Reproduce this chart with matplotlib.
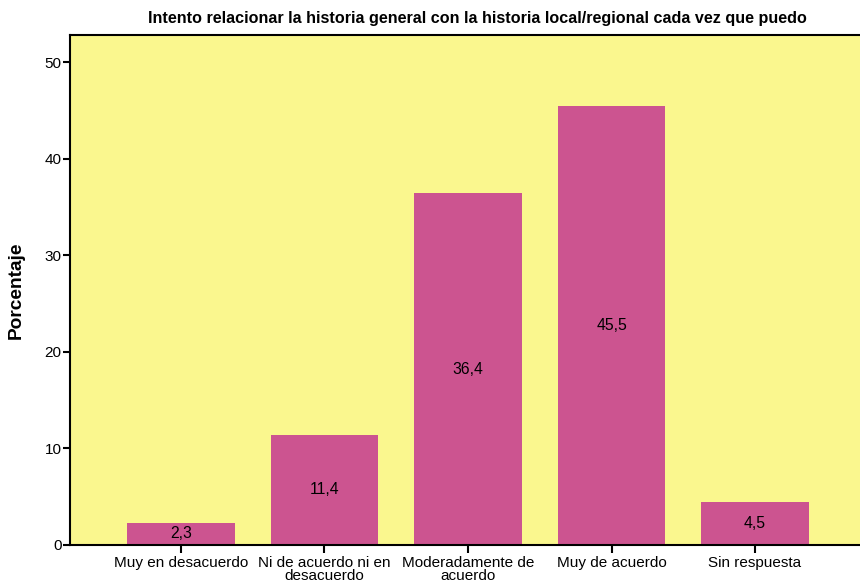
import matplotlib
matplotlib.use("Agg")
import matplotlib.pyplot as plt

categories = ["Muy en desacuerdo", "Ni de acuerdo ni en\ndesacuerdo", "Moderadamente de\nacuerdo", "Muy de acuerdo", "Sin respuesta"]
values = [2.3, 11.4, 36.4, 45.5, 4.5]
labels = ["2,3", "11,4", "36,4", "45,5", "4,5"]
yticks = [0, 10, 20, 30, 40, 50]

plt.rcParams['font.family'] = ['Liberation Sans', 'DejaVu Sans']

fig = plt.figure(figsize=(8.6, 5.82), dpi=100)
W, H = 860, 582
ax = fig.add_axes([70 / W, 1 - 545 / H, (866 - 70) / W, (545 - 35) / H])
ax.set_facecolor("#FAF78E")

x = list(range(len(values)))
bars = ax.bar(x, values, width=0.75, color="#CC5490", edgecolor="none", zorder=2)
for xi, v, lab in zip(x, values, labels):
    ax.text(xi, v / 2, lab, ha="center", va="center", fontsize=11.3, color="black", zorder=3)

ax.set_xlim(-0.773, 4.773)
ax.set_ylim(0, 52.8)
ax.set_yticks(yticks)
ax.set_xticks(x)
ax.set_xticklabels(categories, fontsize=11, linespacing=0.9)
ax.tick_params(axis="y", labelsize=11, length=5, width=1.5, direction="out", pad=1)
ax.tick_params(axis="x", length=6, width=1.5, direction="out", pad=2)
for s in ["left", "bottom", "top"]:
    ax.spines[s].set_linewidth(1.5)
ax.spines["right"].set_visible(False)

ax.set_ylabel("Porcentaje", fontsize=13.8, fontweight="bold", labelpad=14)
fig.text(477 / W, 1 - 18 / H, "Intento relacionar la historia general con la historia local/regional cada vez que puedo",
         ha="center", va="center", fontsize=11.6, fontweight="bold")

fig.savefig("out.png", dpi=100)
